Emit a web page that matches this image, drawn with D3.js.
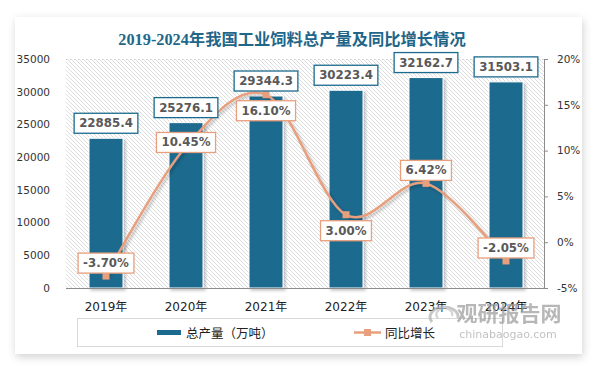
<!DOCTYPE html>
<html><head><meta charset="utf-8">
<script src="https://cdn.jsdelivr.net/npm/d3@7/dist/d3.min.js"></script>
<style>
html,body{margin:0;padding:0;background:#fff;}
svg{display:block;}
</style></head>
<body>
<script>
const years = ['2019年','2020年','2021年','2022年','2023年','2024年'];
const output = [22885.4, 25276.1, 29344.3, 30223.4, 32162.7, 31503.1];
const growth = [-3.70, 10.45, 16.10, 3.00, 6.42, -2.05];
const leftTicks = [0,5000,10000,15000,20000,25000,30000,35000];
const rightTicks = [-5,0,5,10,15,20];
const title = '2019-2024年我国工业饲料总产量及同比增长情况';
const legendLabels = ['总产量（万吨）','同比增长'];
const growthLabelPlacement = ['above','center','below','below','above','above'];

const W=594,H=366;
const blue='#1c6b8e', orange='#e89f7d', textGray='#595959';
const svg=d3.select('body').append('svg').attr('width',W).attr('height',H);
const defs=svg.append('defs');
const sh=defs.append('filter').attr('id','cardShadow').attr('x','-10%').attr('y','-10%').attr('width','120%').attr('height','125%');
sh.append('feDropShadow').attr('dx',1).attr('dy',3).attr('stdDeviation',4).attr('flood-color','#000').attr('flood-opacity',0.18);
const bs=defs.append('filter').attr('id','barShadow').attr('x','-20%').attr('y','-20%').attr('width','150%').attr('height','140%');
bs.append('feDropShadow').attr('dx',2).attr('dy',2).attr('stdDeviation',1.5).attr('flood-color','#000').attr('flood-opacity',0.25);
const pat=defs.append('pattern').attr('id','hatch').attr('patternUnits','userSpaceOnUse').attr('width',4).attr('height',4);
pat.append('rect').attr('width',4).attr('height',4).attr('fill','#fff');
pat.append('path').attr('d','M-1,-1 L5,5 M-1,3 L1,5 M3,-1 L5,1').attr('stroke','#d4d4d4').attr('stroke-width',0.8);

// card
svg.append('rect').attr('x',15).attr('y',17).attr('width',567).attr('height',337).attr('fill','#fff').attr('filter','url(#cardShadow)');

// title
svg.append('text').attr('x',292).attr('y',44.5).attr('text-anchor','middle')
  .attr('font-family','"Liberation Serif","DejaVu Serif","Noto Sans CJK SC",serif').attr('font-weight','bold')
  .attr('font-size',16.3).attr('fill','#1f6689').text(title);

const plotL=66, plotR=546, plotT=59, plotB=288, axisR=544;
const x=d3.scaleBand().domain(years).range([plotL,plotR]).paddingInner(0.575).paddingOuter(0.2875);
const yL=d3.scaleLinear().domain([0,35000]).range([plotB,plotT]);
const yR=d3.scaleLinear().domain([-5,20]).range([plotB,plotT]);

// hatched plot background
svg.append('rect').attr('x',plotL).attr('y',plotT).attr('width',axisR-plotL).attr('height',plotB-plotT).attr('fill','url(#hatch)');
svg.append('line').attr('x1',plotL).attr('x2',axisR).attr('y1',plotT+0.5).attr('y2',plotT+0.5)
  .attr('stroke','#c8c8c8').attr('stroke-dasharray','1,3');

// left axis
const gL=svg.append('g').attr('transform',`translate(${plotL},0)`)
  .call(d3.axisLeft(yL).tickValues(leftTicks).tickSize(0).tickPadding(16).tickFormat(d3.format('d')));
gL.select('.domain').remove();
gL.selectAll('text').attr('font-family','"DejaVu Sans",Verdana,sans-serif').attr('font-size',10.5).attr('fill','#333');

// right axis
const gR=svg.append('g').attr('transform',`translate(${axisR},0)`)
  .call(d3.axisRight(yR).tickValues(rightTicks).tickSize(4).tickPadding(9).tickSizeOuter(0).tickFormat(d=>d+'%'));
gR.select('.domain').attr('stroke','#8c8c8c');
gR.selectAll('line').attr('stroke','#8c8c8c');
gR.selectAll('text').attr('font-family','"DejaVu Sans",Verdana,sans-serif').attr('font-size',10.5).attr('fill','#333');

// bars
svg.append('g').selectAll('rect').data(output).join('rect')
  .attr('x',(d,i)=>x(years[i])).attr('y',d=>yL(d)).attr('width',x.bandwidth()).attr('height',d=>plotB-yL(d))
  .attr('fill',blue).attr('stroke','#fff').attr('stroke-width',1).attr('filter','url(#barShadow)');

// bottom axis
const gB=svg.append('g').attr('transform',`translate(0,${plotB})`)
  .call(d3.axisBottom(x).tickSize(0).tickPadding(14));
gB.select('.domain').attr('stroke','#8c8c8c').attr('d',`M${plotL},0.5H${axisR}`);
gB.selectAll('text').attr('font-family','"DejaVu Sans","Noto Sans CJK SC",sans-serif').attr('font-size',12).attr('fill','#222');

// line
const cx=i=>x(years[i])+x.bandwidth()/2;
const line=d3.line().x((d,i)=>cx(i)).y(d=>yR(d)).curve(d3.curveCardinal.tension(0));
svg.append('path').datum(growth).attr('d',line).attr('fill','none').attr('stroke',orange).attr('stroke-width',2.5).attr('filter','url(#barShadow)');
svg.append('g').selectAll('rect').data(growth).join('rect')
  .attr('x',(d,i)=>cx(i)-3.5).attr('y',d=>yR(d)-3.5).attr('width',7).attr('height',7).attr('fill',orange);

const fontLbl='"DejaVu Sans",Verdana,sans-serif';
function labelBox(g, cxv, cyv, text, border){
  const t=g.append('text').attr('x',cxv).attr('y',cyv).attr('text-anchor','middle').attr('dominant-baseline','central')
    .attr('font-family',fontLbl).attr('font-weight','bold').attr('font-size',11.8).attr('fill',textGray).text(text);
  const w=t.node().getComputedTextLength()+10;
  g.insert('rect','text').attr('x',cxv-w/2).attr('y',cyv-10).attr('width',w).attr('height',20)
    .attr('fill','#fff').attr('stroke',border).attr('stroke-width',1.3);
}
// bar labels
output.forEach((d,i)=>{
  const g=svg.append('g');
  labelBox(g, cx(i), yL(d)-15, d.toFixed(1), blue);
});
// growth labels
growth.forEach((d,i)=>{
  const g=svg.append('g');
  const p=growthLabelPlacement[i];
  const off = p==='above'? -13 : p==='below'? 16 : -4;
  labelBox(g, cx(i), yR(d)+off, d.toFixed(2)+'%', orange);
});

// legend
const lg=svg.append('g');
lg.append('rect').attr('x',77.5).attr('y',318.5).attr('width',425).attr('height',28).attr('fill','#fff').attr('stroke','#d9d9d9');
lg.append('rect').attr('x',157).attr('y',330).attr('width',24).attr('height',5).attr('fill',blue);
lg.append('text').attr('x',186).attr('y',332.5).attr('dominant-baseline','central').attr('font-family','"Noto Sans CJK SC",sans-serif').attr('font-size',12.5).attr('fill','#222').text(legendLabels[0]);
lg.append('line').attr('x1',354).attr('x2',381).attr('y1',332.5).attr('y2',332.5).attr('stroke',orange).attr('stroke-width',2.5);
lg.append('rect').attr('x',364).attr('y',329).attr('width',7).attr('height',7).attr('fill',orange);
lg.append('text').attr('x',385).attr('y',332.5).attr('dominant-baseline','central').attr('font-family','"Noto Sans CJK SC",sans-serif').attr('font-size',12.5).attr('fill','#222').text(legendLabels[1]);

// watermark
const wm=svg.append('g').attr('opacity',0.7);
wm.append('path').attr('d','M432,322 A14,10 0 1,1 458,318').attr('fill','none').attr('stroke','#b0b0b0').attr('stroke-width',3);
wm.append('path').attr('d','M438,318 A8,6 0 1,1 452,316').attr('fill','none').attr('stroke','#c0c0c0').attr('stroke-width',2);
wm.append('text').attr('x',509).attr('y',321).attr('text-anchor','middle').attr('font-family','"Noto Sans CJK SC",sans-serif').attr('font-weight','bold').attr('font-size',21).attr('fill','#9a9a9a').text('观研报告网');
wm.append('text').attr('x',508).attr('y',338).attr('text-anchor','middle').attr('font-family','"DejaVu Sans",sans-serif').attr('font-size',11).attr('fill','#a8a8a8').text('chinabaogao.com');
</script>
</body></html>
